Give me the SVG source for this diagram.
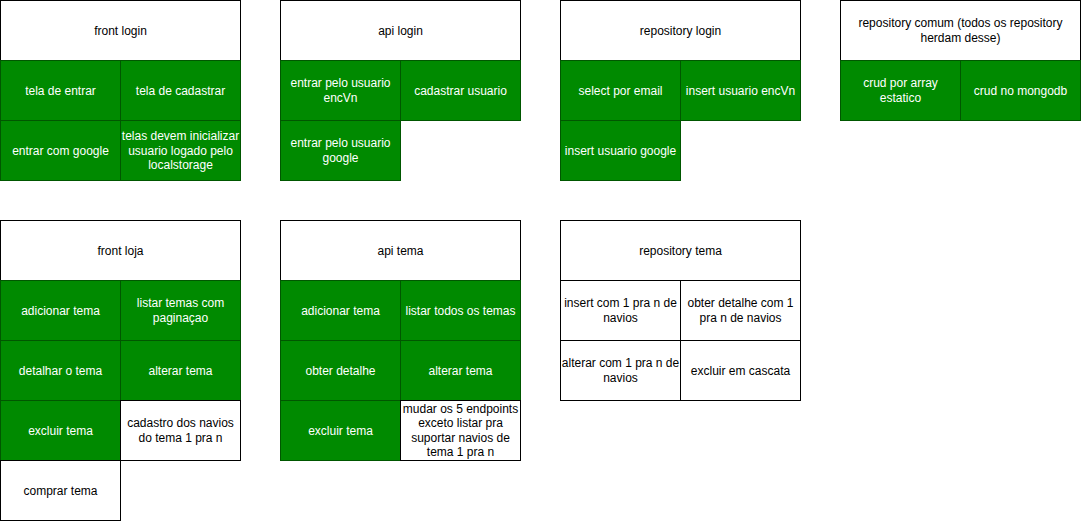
<svg xmlns="http://www.w3.org/2000/svg" width="1082" height="521" viewBox="0 0 1082 521">
<style>
.w{fill:#ffffff;stroke:#000000;stroke-width:1}
.g{fill:#008a00;stroke:#005700;stroke-width:1}
text{font-family:"Liberation Sans",Arial,sans-serif;font-size:12px;text-anchor:middle;dominant-baseline:central}
.tw{fill:#ffffff}
.tb{fill:#000000}
</style>
<rect width="1082" height="521" fill="#ffffff"/>
<g id="front-login">
<rect class="w" x="0.5" y="0.5" width="240" height="60"/>
<text class="tb" x="120.5" y="30.5">front login</text>
<rect class="g" x="0.5" y="60.5" width="120" height="60"/>
<text class="tw" x="60.5" y="90.5">tela de entrar</text>
<rect class="g" x="120.5" y="60.5" width="120" height="60"/>
<text class="tw" x="180.5" y="90.5">tela de cadastrar</text>
<rect class="g" x="0.5" y="120.5" width="120" height="60"/>
<text class="tw" x="60.5" y="150.5">entrar com google</text>
<rect class="g" x="120.5" y="120.5" width="120" height="60"/>
<text class="tw" x="180.5" y="150.5"><tspan x="180.5" dy="-14.4">telas devem inicializar</tspan><tspan x="180.5" dy="14.4">usuario logado pelo</tspan><tspan x="180.5" dy="14.4">localstorage</tspan></text>
</g>
<g id="api-login">
<rect class="w" x="280.5" y="0.5" width="240" height="60"/>
<text class="tb" x="400.5" y="30.5">api login</text>
<rect class="g" x="280.5" y="60.5" width="120" height="60"/>
<text class="tw" x="340.5" y="90.5"><tspan x="340.5" dy="-7.2">entrar pelo usuario</tspan><tspan x="340.5" dy="14.4">encVn</tspan></text>
<rect class="g" x="400.5" y="60.5" width="120" height="60"/>
<text class="tw" x="460.5" y="90.5">cadastrar usuario</text>
<rect class="g" x="280.5" y="120.5" width="120" height="60"/>
<text class="tw" x="340.5" y="150.5"><tspan x="340.5" dy="-7.2">entrar pelo usuario</tspan><tspan x="340.5" dy="14.4">google</tspan></text>
</g>
<g id="repository-login">
<rect class="w" x="560.5" y="0.5" width="240" height="60"/>
<text class="tb" x="680.5" y="30.5">repository login</text>
<rect class="g" x="560.5" y="60.5" width="120" height="60"/>
<text class="tw" x="620.5" y="90.5">select por email</text>
<rect class="g" x="680.5" y="60.5" width="120" height="60"/>
<text class="tw" x="740.5" y="90.5">insert usuario encVn</text>
<rect class="g" x="560.5" y="120.5" width="120" height="60"/>
<text class="tw" x="620.5" y="150.5">insert usuario google</text>
</g>
<g id="repository-comum">
<rect class="w" x="840.5" y="0.5" width="240" height="60"/>
<text class="tb" x="960.5" y="30.5"><tspan x="960.5" dy="-7.2">repository comum (todos os repository</tspan><tspan x="960.5" dy="14.4">herdam desse)</tspan></text>
<rect class="g" x="840.5" y="60.5" width="120" height="60"/>
<text class="tw" x="900.5" y="90.5"><tspan x="900.5" dy="-7.2">crud por array</tspan><tspan x="900.5" dy="14.4">estatico</tspan></text>
<rect class="g" x="960.5" y="60.5" width="120" height="60"/>
<text class="tw" x="1020.5" y="90.5">crud no mongodb</text>
</g>
<g id="front-loja">
<rect class="w" x="0.5" y="220.5" width="240" height="60"/>
<text class="tb" x="120.5" y="250.5">front loja</text>
<rect class="g" x="0.5" y="280.5" width="120" height="60"/>
<text class="tw" x="60.5" y="310.5">adicionar tema</text>
<rect class="g" x="120.5" y="280.5" width="120" height="60"/>
<text class="tw" x="180.5" y="310.5"><tspan x="180.5" dy="-7.2">listar temas com</tspan><tspan x="180.5" dy="14.4">paginaçao</tspan></text>
<rect class="g" x="0.5" y="340.5" width="120" height="60"/>
<text class="tw" x="60.5" y="370.5">detalhar o tema</text>
<rect class="g" x="120.5" y="340.5" width="120" height="60"/>
<text class="tw" x="180.5" y="370.5">alterar tema</text>
<rect class="g" x="0.5" y="400.5" width="120" height="60"/>
<text class="tw" x="60.5" y="430.5">excluir tema</text>
<rect class="w" x="120.5" y="400.5" width="120" height="60"/>
<text class="tb" x="180.5" y="430.5"><tspan x="180.5" dy="-7.2">cadastro dos navios</tspan><tspan x="180.5" dy="14.4">do tema 1 pra n</tspan></text>
<rect class="w" x="0.5" y="460.5" width="120" height="60"/>
<text class="tb" x="60.5" y="490.5">comprar tema</text>
</g>
<g id="api-tema">
<rect class="w" x="280.5" y="220.5" width="240" height="60"/>
<text class="tb" x="400.5" y="250.5">api tema</text>
<rect class="g" x="280.5" y="280.5" width="120" height="60"/>
<text class="tw" x="340.5" y="310.5">adicionar tema</text>
<rect class="g" x="400.5" y="280.5" width="120" height="60"/>
<text class="tw" x="460.5" y="310.5">listar todos os temas</text>
<rect class="g" x="280.5" y="340.5" width="120" height="60"/>
<text class="tw" x="340.5" y="370.5">obter detalhe</text>
<rect class="g" x="400.5" y="340.5" width="120" height="60"/>
<text class="tw" x="460.5" y="370.5">alterar tema</text>
<rect class="g" x="280.5" y="400.5" width="120" height="60"/>
<text class="tw" x="340.5" y="430.5">excluir tema</text>
<rect class="w" x="400.5" y="400.5" width="120" height="60"/>
<text class="tb" x="460.5" y="430.5"><tspan x="460.5" dy="-21.6">mudar os 5 endpoints</tspan><tspan x="460.5" dy="14.4">exceto listar pra</tspan><tspan x="460.5" dy="14.4">suportar navios de</tspan><tspan x="460.5" dy="14.4">tema 1 pra n</tspan></text>
</g>
<g id="repository-tema">
<rect class="w" x="560.5" y="220.5" width="240" height="60"/>
<text class="tb" x="680.5" y="250.5">repository tema</text>
<rect class="w" x="560.5" y="280.5" width="120" height="60"/>
<text class="tb" x="620.5" y="310.5"><tspan x="620.5" dy="-7.2">insert com 1 pra n de</tspan><tspan x="620.5" dy="14.4">navios</tspan></text>
<rect class="w" x="680.5" y="280.5" width="120" height="60"/>
<text class="tb" x="740.5" y="310.5"><tspan x="740.5" dy="-7.2">obter detalhe com 1</tspan><tspan x="740.5" dy="14.4">pra n de navios</tspan></text>
<rect class="w" x="560.5" y="340.5" width="120" height="60"/>
<text class="tb" x="620.5" y="370.5"><tspan x="620.5" dy="-7.2">alterar com 1 pra n de</tspan><tspan x="620.5" dy="14.4">navios</tspan></text>
<rect class="w" x="680.5" y="340.5" width="120" height="60"/>
<text class="tb" x="740.5" y="370.5">excluir em cascata</text>
</g>
<g id="connectors"></g>
</svg>
